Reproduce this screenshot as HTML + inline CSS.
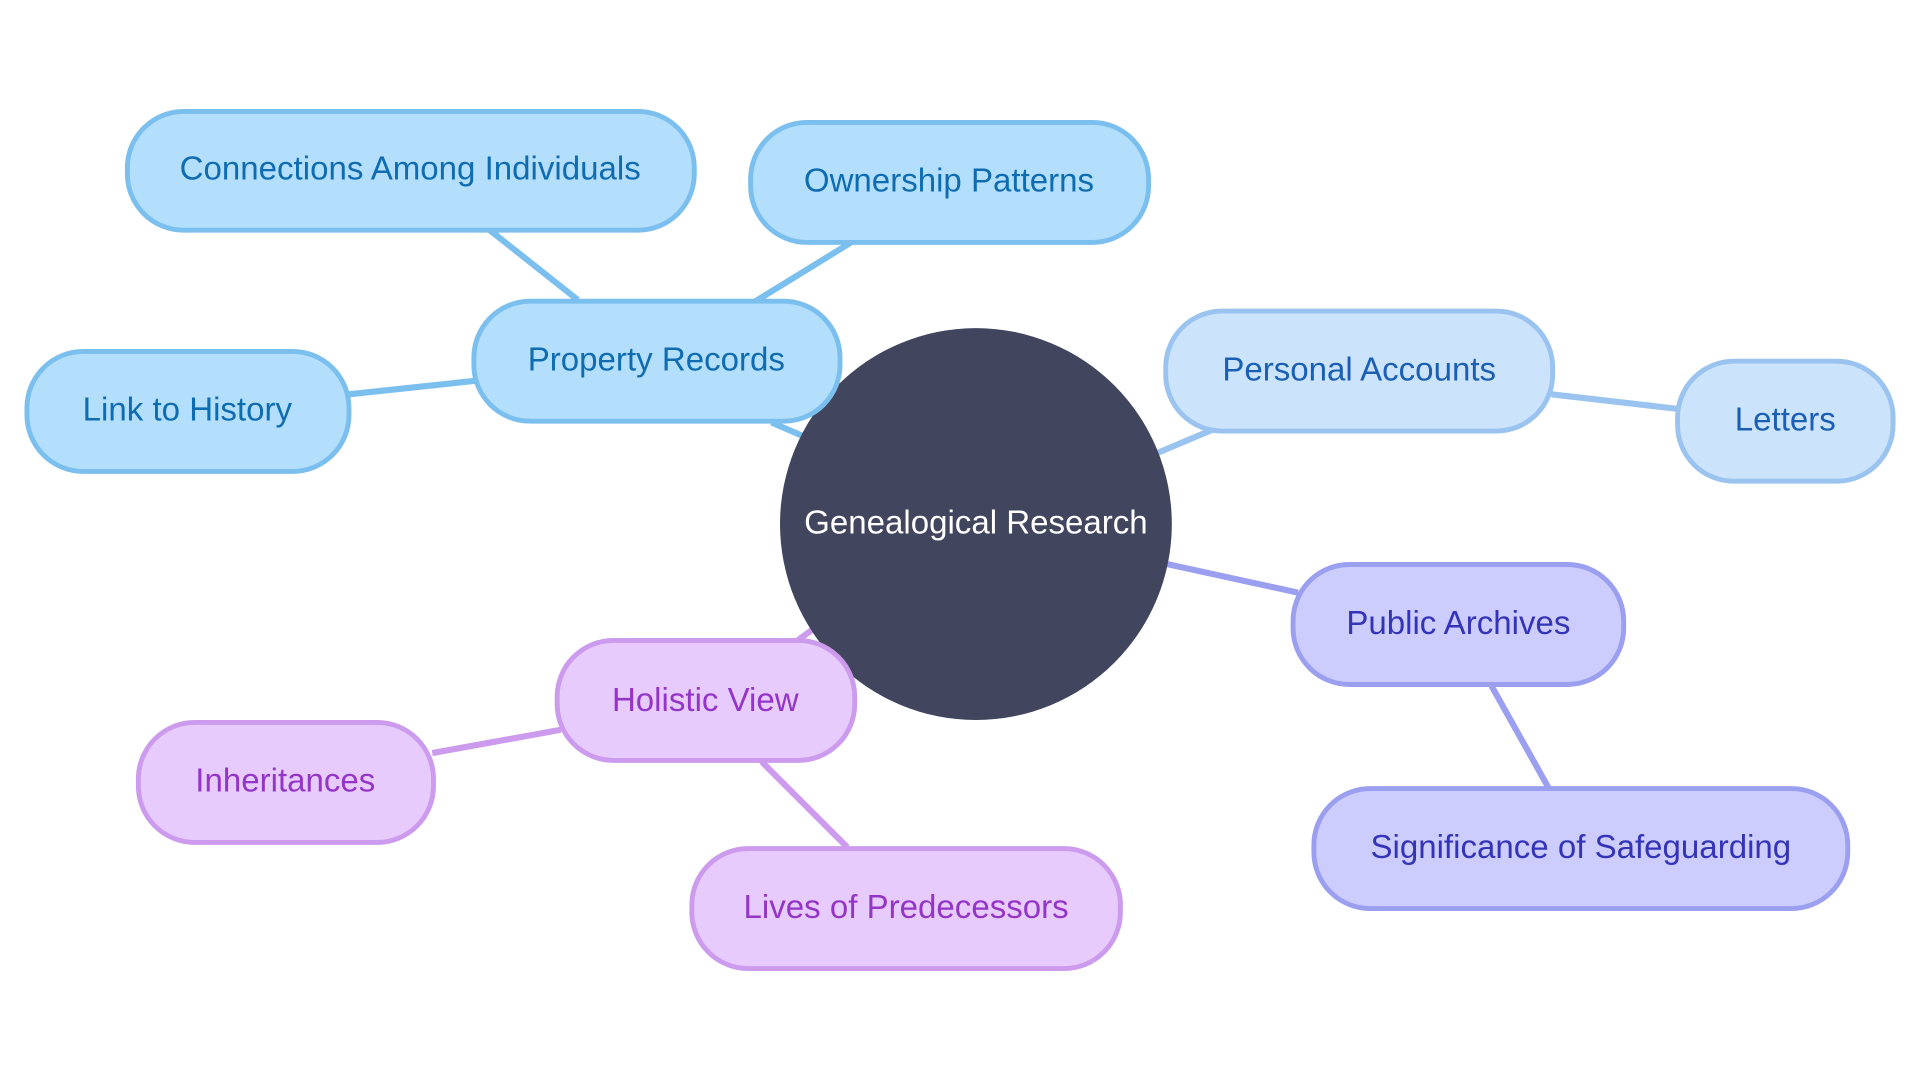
<!DOCTYPE html>
<html><head><meta charset="utf-8"><style>html,body{margin:0;padding:0;background:#fff;}svg{display:block}text{font-family:"Liberation Sans",sans-serif;font-size:27px;text-anchor:middle;dominant-baseline:central}</style></head>
<body>
<svg width="1920" height="1080" viewBox="0 0 1568 882" preserveAspectRatio="none" xmlns="http://www.w3.org/2000/svg">
<rect width="1568" height="882" fill="#fff"/>
<g stroke-width="5" fill="none">
<line x1="630" y1="345" x2="660" y2="358" stroke="#7bbfef"/>
<line x1="400" y1="188" x2="472" y2="245" stroke="#7bbfef"/>
<line x1="695" y1="198" x2="617" y2="246" stroke="#7bbfef"/>
<line x1="285" y1="322" x2="388" y2="311" stroke="#7bbfef"/>
<line x1="945" y1="370" x2="990" y2="351" stroke="#9ac4ef"/>
<line x1="1267" y1="322" x2="1371" y2="334" stroke="#9ac4ef"/>
<line x1="950" y1="460" x2="1060" y2="484" stroke="#9b9ff0"/>
<line x1="1218" y1="560" x2="1265" y2="644" stroke="#9b9ff0"/>
<line x1="665" y1="513" x2="650" y2="524" stroke="#cc9bee"/>
<line x1="353" y1="615" x2="458" y2="596" stroke="#cc9bee"/>
<line x1="622" y1="622" x2="692" y2="692" stroke="#cc9bee"/>
</g>
<circle cx="797" cy="428" r="160" fill="#41455e"/>
<text x="797" y="427" fill="#fff">Genealogical Research</text>
<g stroke-width="4">
<rect x="387" y="246" width="299" height="98" rx="46" fill="#b3dffd" stroke="#7bbfef"/>
<rect x="104" y="91" width="463" height="97" rx="46" fill="#b3dffd" stroke="#7bbfef"/>
<rect x="613" y="100" width="325" height="98" rx="46" fill="#b3dffd" stroke="#7bbfef"/>
<rect x="22" y="287" width="263" height="98" rx="46" fill="#b3dffd" stroke="#7bbfef"/>
<rect x="952" y="254" width="316" height="98" rx="46" fill="#cce3fc" stroke="#9ac4ef"/>
<rect x="1370" y="295" width="176" height="98" rx="46" fill="#cce3fc" stroke="#9ac4ef"/>
<rect x="1056" y="461" width="270" height="98" rx="46" fill="#ccccfd" stroke="#9b9ff0"/>
<rect x="1073" y="644" width="436" height="98" rx="46" fill="#ccccfd" stroke="#9b9ff0"/>
<rect x="455" y="523" width="243" height="98" rx="46" fill="#e8cbfd" stroke="#cc9bee"/>
<rect x="113" y="590" width="241" height="98" rx="46" fill="#e8cbfd" stroke="#cc9bee"/>
<rect x="565" y="693" width="350" height="98" rx="46" fill="#e8cbfd" stroke="#cc9bee"/>
</g>
<g fill="#0f6cb0">
<text x="536" y="294">Property Records</text>
<text x="335" y="138">Connections Among Individuals</text>
<text x="775" y="148">Ownership Patterns</text>
<text x="153" y="335">Link to History</text>
</g>
<g fill="#1a5fb4">
<text x="1110" y="302">Personal Accounts</text>
<text x="1458" y="343">Letters</text>
</g>
<g fill="#3434b8">
<text x="1191" y="509">Public Archives</text>
<text x="1291" y="692">Significance of Safeguarding</text>
</g>
<g fill="#9335c6">
<text x="576" y="572">Holistic View</text>
<text x="233" y="638">Inheritances</text>
<text x="740" y="741">Lives of Predecessors</text>
</g>
</svg>
</body></html>
